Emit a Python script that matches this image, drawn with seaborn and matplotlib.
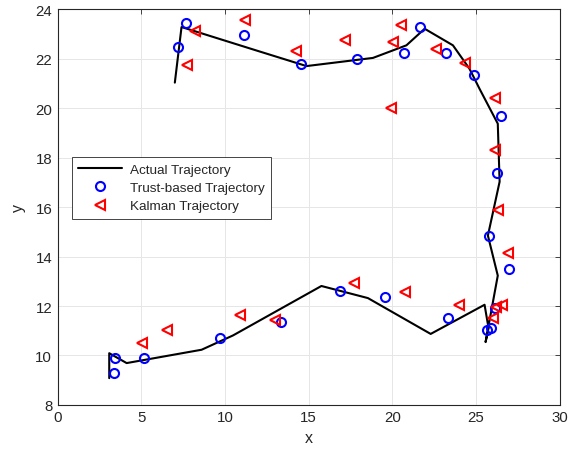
import matplotlib
matplotlib.use("Agg")
import matplotlib.pyplot as plt
import seaborn as sns
import pandas as pd

# actual trajectory (path order)
actual_x = [3.08, 3.08, 4.12, 8.6, 10.48, 15.76, 18.54, 22.29, 25.51, 25.75, 25.57,
            26.3, 25.71, 26.41, 26.3, 25.21, 24.61, 23.62, 21.93, 20.84, 18.84,
            14.87, 11.88, 7.4, 7.0]
actual_y = [9.08, 10.09, 9.69, 10.23, 10.81, 12.81, 12.32, 10.87, 12.05, 11.1, 10.54,
            13.23, 14.85, 17.03, 19.38, 20.79, 21.6, 22.55, 23.22, 22.55, 22.04,
            21.71, 22.34, 23.29, 21.04]

# trust-based estimates
trust_x = [3.42, 3.36, 5.17, 9.69, 13.33, 16.9, 19.54, 23.32, 25.65, 25.91, 26.11,
           27.0, 25.77, 26.24, 26.51, 24.87, 23.22, 21.63, 20.69, 17.91, 14.57,
           11.14, 7.64, 7.16]
trust_y = [9.89, 9.27, 9.89, 10.71, 11.35, 12.6, 12.36, 11.52, 11.04, 11.12, 11.91,
           13.51, 14.83, 17.38, 19.67, 21.36, 22.25, 23.29, 22.24, 21.98, 21.81,
           22.95, 23.47, 22.48]

# kalman estimates
kalman_x = [5.01, 6.54, 10.88, 12.97, 17.69, 20.73, 23.96, 26.01, 26.21, 26.54,
            26.94, 26.3, 26.15, 26.11, 24.32, 22.63, 20.04, 20.54, 19.94, 17.15,
            14.27, 11.18, 8.2, 7.7]
kalman_y = [10.51, 11.01, 11.64, 11.45, 12.93, 12.56, 12.06, 11.51, 11.96, 12.06,
            14.15, 15.89, 18.3, 20.42, 21.83, 22.41, 22.68, 23.36, 20.02, 22.78,
            22.34, 23.56, 23.13, 21.74]

sns.set_theme(style="white")
plt.rcParams['font.family'] = ['Liberation Sans', 'DejaVu Sans']

df_act = pd.DataFrame({'x': actual_x, 'y': actual_y})
df_tr = pd.DataFrame({'x': trust_x, 'y': trust_y})
df_kf = pd.DataFrame({'x': kalman_x, 'y': kalman_y})

fig = plt.figure(figsize=(5.77, 4.56), dpi=100, facecolor='white')
ax = fig.add_axes([0.1, 0.11, 0.87, 0.867])

sns.lineplot(data=df_act, x='x', y='y', sort=False, estimator=None, ax=ax,
             color='black', linewidth=1.5, label='Actual Trajectory')
sns.lineplot(data=df_tr, x='x', y='y', sort=False, estimator=None, ax=ax,
             linestyle='', marker='o', markersize=6.5, markerfacecolor='none',
             markeredgecolor='blue', markeredgewidth=1.5, color='blue',
             label='Trust-based Trajectory')
sns.lineplot(data=df_kf, x='x', y='y', sort=False, estimator=None, ax=ax,
             linestyle='', marker='<', markersize=7, markerfacecolor='none',
             markeredgecolor='red', markeredgewidth=1.5, color='red',
             label='Kalman Trajectory')

ax.set_xlim(0, 30)
ax.set_ylim(8, 24)
ax.set_xticks(range(0, 31, 5))
ax.set_yticks(range(8, 25, 2))
ax.grid(True, color='#e6e6e6', linewidth=0.7)
ax.set_axisbelow(True)
ax.tick_params(direction='in', length=3.5, width=0.6, top=True, right=True,
               labelsize=10.8, colors='#262626', pad=4)
for sp in ax.spines.values():
    sp.set_color('#262626')
    sp.set_linewidth(0.8)
ax.set_xlabel('x', fontsize=11.5, color='#262626', labelpad=4)
ax.set_ylabel('y', fontsize=11.5, color='#262626', labelpad=7)

leg = ax.legend(loc='upper left', bbox_to_anchor=(0.028, 0.627), fontsize=9.7,
                frameon=True, fancybox=False, edgecolor='#262626', framealpha=1,
                borderpad=0.5, handlelength=3.2, handletextpad=0.6, labelspacing=0.42,
                borderaxespad=0)
leg.get_frame().set_linewidth(0.6)

fig.savefig('out.png', dpi=100)
